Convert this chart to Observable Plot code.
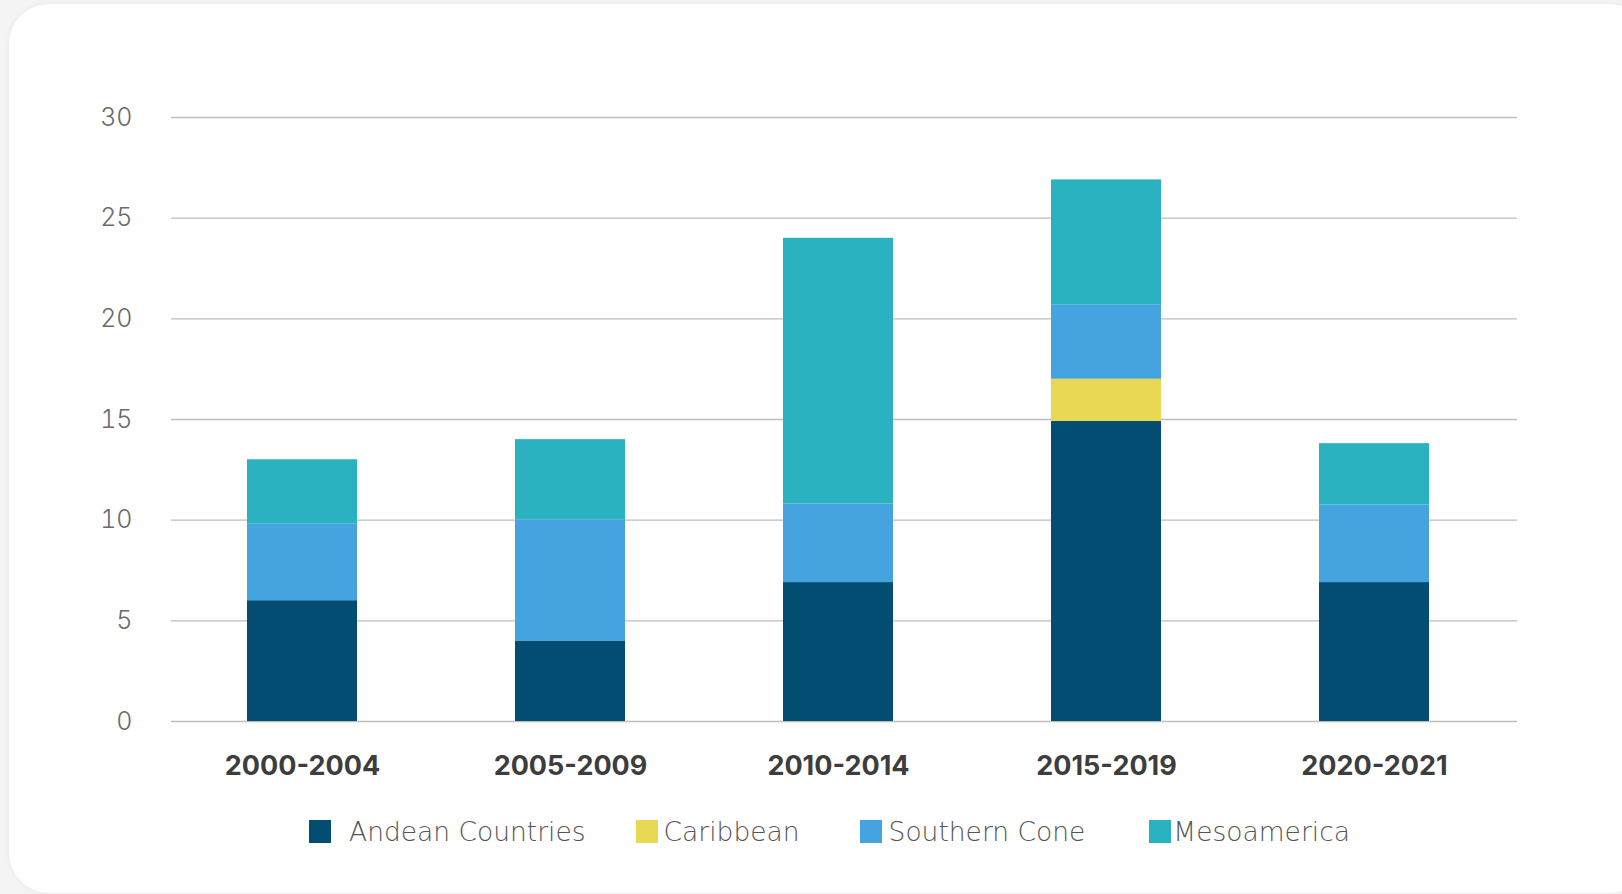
<!DOCTYPE html>
<html>
<head>
<meta charset="utf-8">
<script src="https://cdn.jsdelivr.net/npm/d3@7"></script>
<script src="https://cdn.jsdelivr.net/npm/@observablehq/plot@0.6"></script>
<style>
  html, body { margin: 0; padding: 0; }
  body { width: 1622px; height: 894px; overflow: hidden; background: #f4f4f4; position: relative; font-family: Inter, "Open Sans", sans-serif; }
  .card { position: absolute; left: 9px; top: 4px; width: 1640px; height: 889px; background: #fff; border-radius: 40px; box-shadow: 0 0 6px rgba(0,0,0,0.05); }
  #chart { position: absolute; left: 0; top: 0; }
  #chart svg { background: transparent; overflow: visible; }
  #chart g[aria-label="y-axis tick label"] text { font-family: Inter, sans-serif; font-weight: 300; font-size: 25px; fill: #6a6a6a; }
  #chart g[aria-label="x-axis tick label"] text { font-family: Inter, sans-serif; font-weight: 700; font-size: 27px; fill: #3d3d3d; }
  .legend { position: absolute; left: 309px; top: 816px; display: flex; align-items: center; font-family: "DejaVu Sans", sans-serif; font-weight: 200; font-size: 26.5px; color: #555; white-space: pre; }
  .legend .item { display: flex; align-items: center; }
  .legend .sw { width: 22px; height: 23px; }
</style>
</head>
<body>
<div class="card"></div>
<div id="chart"></div>
<div class="legend" id="legend"></div>
<script>
const periods = ["2000-2004", "2005-2009", "2010-2014", "2015-2019", "2020-2021"];
const regions = ["Andean Countries", "Caribbean", "Southern Cone", "Mesoamerica"];
const andean = [6, 4, 6.9, 14.9, 6.9];
const caribbean = [0, 0, 0, 2.1, 0];
const southernCone = [3.8, 6, 3.9, 3.7, 3.85];
const mesoamerica = [3.2, 4, 13.2, 6.2, 3.05];
const colors = ["#034d72", "#e8d854", "#45a3e0", "#2bb2c1"];
const yTicks = [0, 5, 10, 15, 20, 25, 30];

const seriesValues = [andean, caribbean, southernCone, mesoamerica];
const rows = [];
periods.forEach((p, i) => {
  regions.forEach((r, j) => {
    rows.push({period: p, region: r, value: seriesValues[j][i]});
  });
});

const chart = Plot.plot({
  width: 1622,
  height: 791,
  marginLeft: 171,
  marginRight: 105,
  marginTop: 117,
  marginBottom: 70,
  style: {background: "transparent"},
  x: {type: "band", domain: periods, paddingInner: 0.5905, paddingOuter: 0.30, align: 0.463, label: null},
  y: {domain: [0, 30], label: null},
  color: {domain: regions, range: colors},
  marks: [
    Plot.ruleY(yTicks, {stroke: "#bdbdbd", strokeWidth: 1.3}),
    Plot.barY(rows, {x: "period", y: "value", fill: "region", order: regions}),
    Plot.axisY({ticks: yTicks, tickSize: 0, tickPadding: 39, label: null}),
    Plot.axisX({tickSize: 0, tickPadding: 34, label: null})
  ]
});
document.getElementById("chart").appendChild(chart);

// legend layout: gap between swatch and label, and gap before next item
const swatchGaps = [18, 6, 7, 2];
const itemGaps = [50, 60, 64, 0];
const legend = document.getElementById("legend");
regions.forEach((r, j) => {
  const item = document.createElement("div");
  item.className = "item";
  item.style.marginRight = itemGaps[j] + "px";
  const sw = document.createElement("div");
  sw.className = "sw";
  sw.style.background = colors[j];
  sw.style.marginRight = swatchGaps[j] + "px";
  const label = document.createElement("span");
  label.textContent = r;
  item.appendChild(sw);
  item.appendChild(label);
  legend.appendChild(item);
});
</script>
</body>
</html>
